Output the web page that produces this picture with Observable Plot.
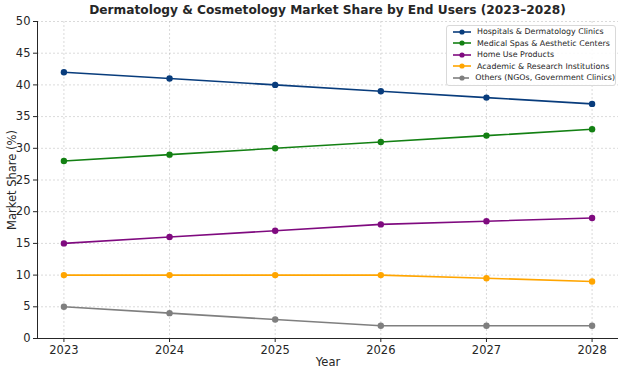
<!DOCTYPE html>
<html><head><meta charset="utf-8">
<script src="https://cdn.jsdelivr.net/npm/d3@7"></script>
<script src="https://cdn.jsdelivr.net/npm/@observablehq/plot@0.6"></script>
<style>
body{margin:0;background:#fff;font-family:"DejaVu Sans",sans-serif;}
#wrap{position:relative;width:624px;height:372px;}
#title{position:absolute;top:3px;left:0;width:655px;text-align:center;font-weight:bold;font-size:12.2px;color:#262626;white-space:nowrap;}
#legend{position:absolute;left:446px;top:25px;width:168px;border:1px solid #d9d9d9;border-radius:3px;background:rgba(255,255,255,0.85);padding:0 0 1px 0;font-size:7.9px;color:#262626;white-space:nowrap;}
.li{display:flex;align-items:center;height:11.5px;}
.li svg{margin:0 6px 0 6px;}
</style></head>
<body><div id="wrap"><div id="title">Dermatology &amp; Cosmetology Market Share by End Users (2023–2028)</div><div id="chart"></div><div id="legend"></div></div>
<script>
const years = [2023, 2024, 2025, 2026, 2027, 2028];
const seriesNames = ["Hospitals & Dermatology Clinics","Medical Spas & Aesthetic Centers","Home Use Products","Academic & Research Institutions","Others (NGOs, Government Clinics)"];
const hospitals = [42, 41, 40, 39, 38, 37];
const medicalSpas = [28, 29, 30, 31, 32, 33];
const homeUse = [15, 16, 17, 18, 18.5, 19];
const academic = [10, 10, 10, 10, 9.5, 9];
const others = [5, 4, 3, 2, 2, 2];
const colors = ["#083c7c","#138013","#7f0a7f","#ffa500","#7f7f7f"];
const yTicks = [0,5,10,15,20,25,30,35,40,45,50];

const allSeries = [hospitals, medicalSpas, homeUse, academic, others];
const data = [];
allSeries.forEach((vals, i) => vals.forEach((v, j) => data.push({year: years[j], value: v, series: seriesNames[i]})));

const plot = Plot.plot({
  width: 624, height: 372,
  marginTop: 21, marginBottom: 34, marginLeft: 37, marginRight: 6,
  style: {fontFamily: "DejaVu Sans, sans-serif", fontSize: "11.5px", color: "#262626", background: "white"},
  x: {domain: [2022.75, 2028.25]},
  y: {domain: [0, 50]},
  color: {domain: seriesNames, range: colors},
  marks: [
    Plot.gridX(years, {stroke: "#b0b0b0", strokeOpacity: 0.6, strokeDasharray: "2,2", strokeWidth: 0.8}),
    Plot.gridY(yTicks, {stroke: "#b0b0b0", strokeOpacity: 0.6, strokeDasharray: "2,2", strokeWidth: 0.8}),
    Plot.axisX({ticks: years, tickFormat: d => String(d), label: "Year", labelAnchor: "center", labelArrow: "none", tickSize: 4, tickPadding: 3, labelOffset: 27, fontSize: 11.5}),
    Plot.axisY({ticks: yTicks, label: "Market Share (%)", labelAnchor: "center", labelArrow: "none", tickSize: 4, tickPadding: 3, labelOffset: 30, fontSize: 11.5}),
    Plot.ruleX([2022.75], {stroke: "#262626", strokeWidth: 1}),
    Plot.ruleY([0], {stroke: "#262626", strokeWidth: 1}),
    Plot.line(data, {x: "year", y: "value", z: "series", stroke: "series", strokeWidth: 1.6}),
    Plot.dot(data, {x: "year", y: "value", fill: "series", r: 3.2})
  ]
});
document.getElementById("chart").appendChild(plot);

const leg = document.getElementById("legend");
seriesNames.forEach((n, i) => {
  const d = document.createElement("div");
  d.className = "li";
  d.innerHTML = `<svg width="18" height="8"><line x1="0" y1="4" x2="18" y2="4" stroke="${colors[i]}" stroke-width="1.6"/><circle cx="9" cy="4" r="2.6" fill="${colors[i]}"/></svg><span></span>`;
  d.querySelector("span").textContent = n;
  leg.appendChild(d);
});
</script></body></html>
